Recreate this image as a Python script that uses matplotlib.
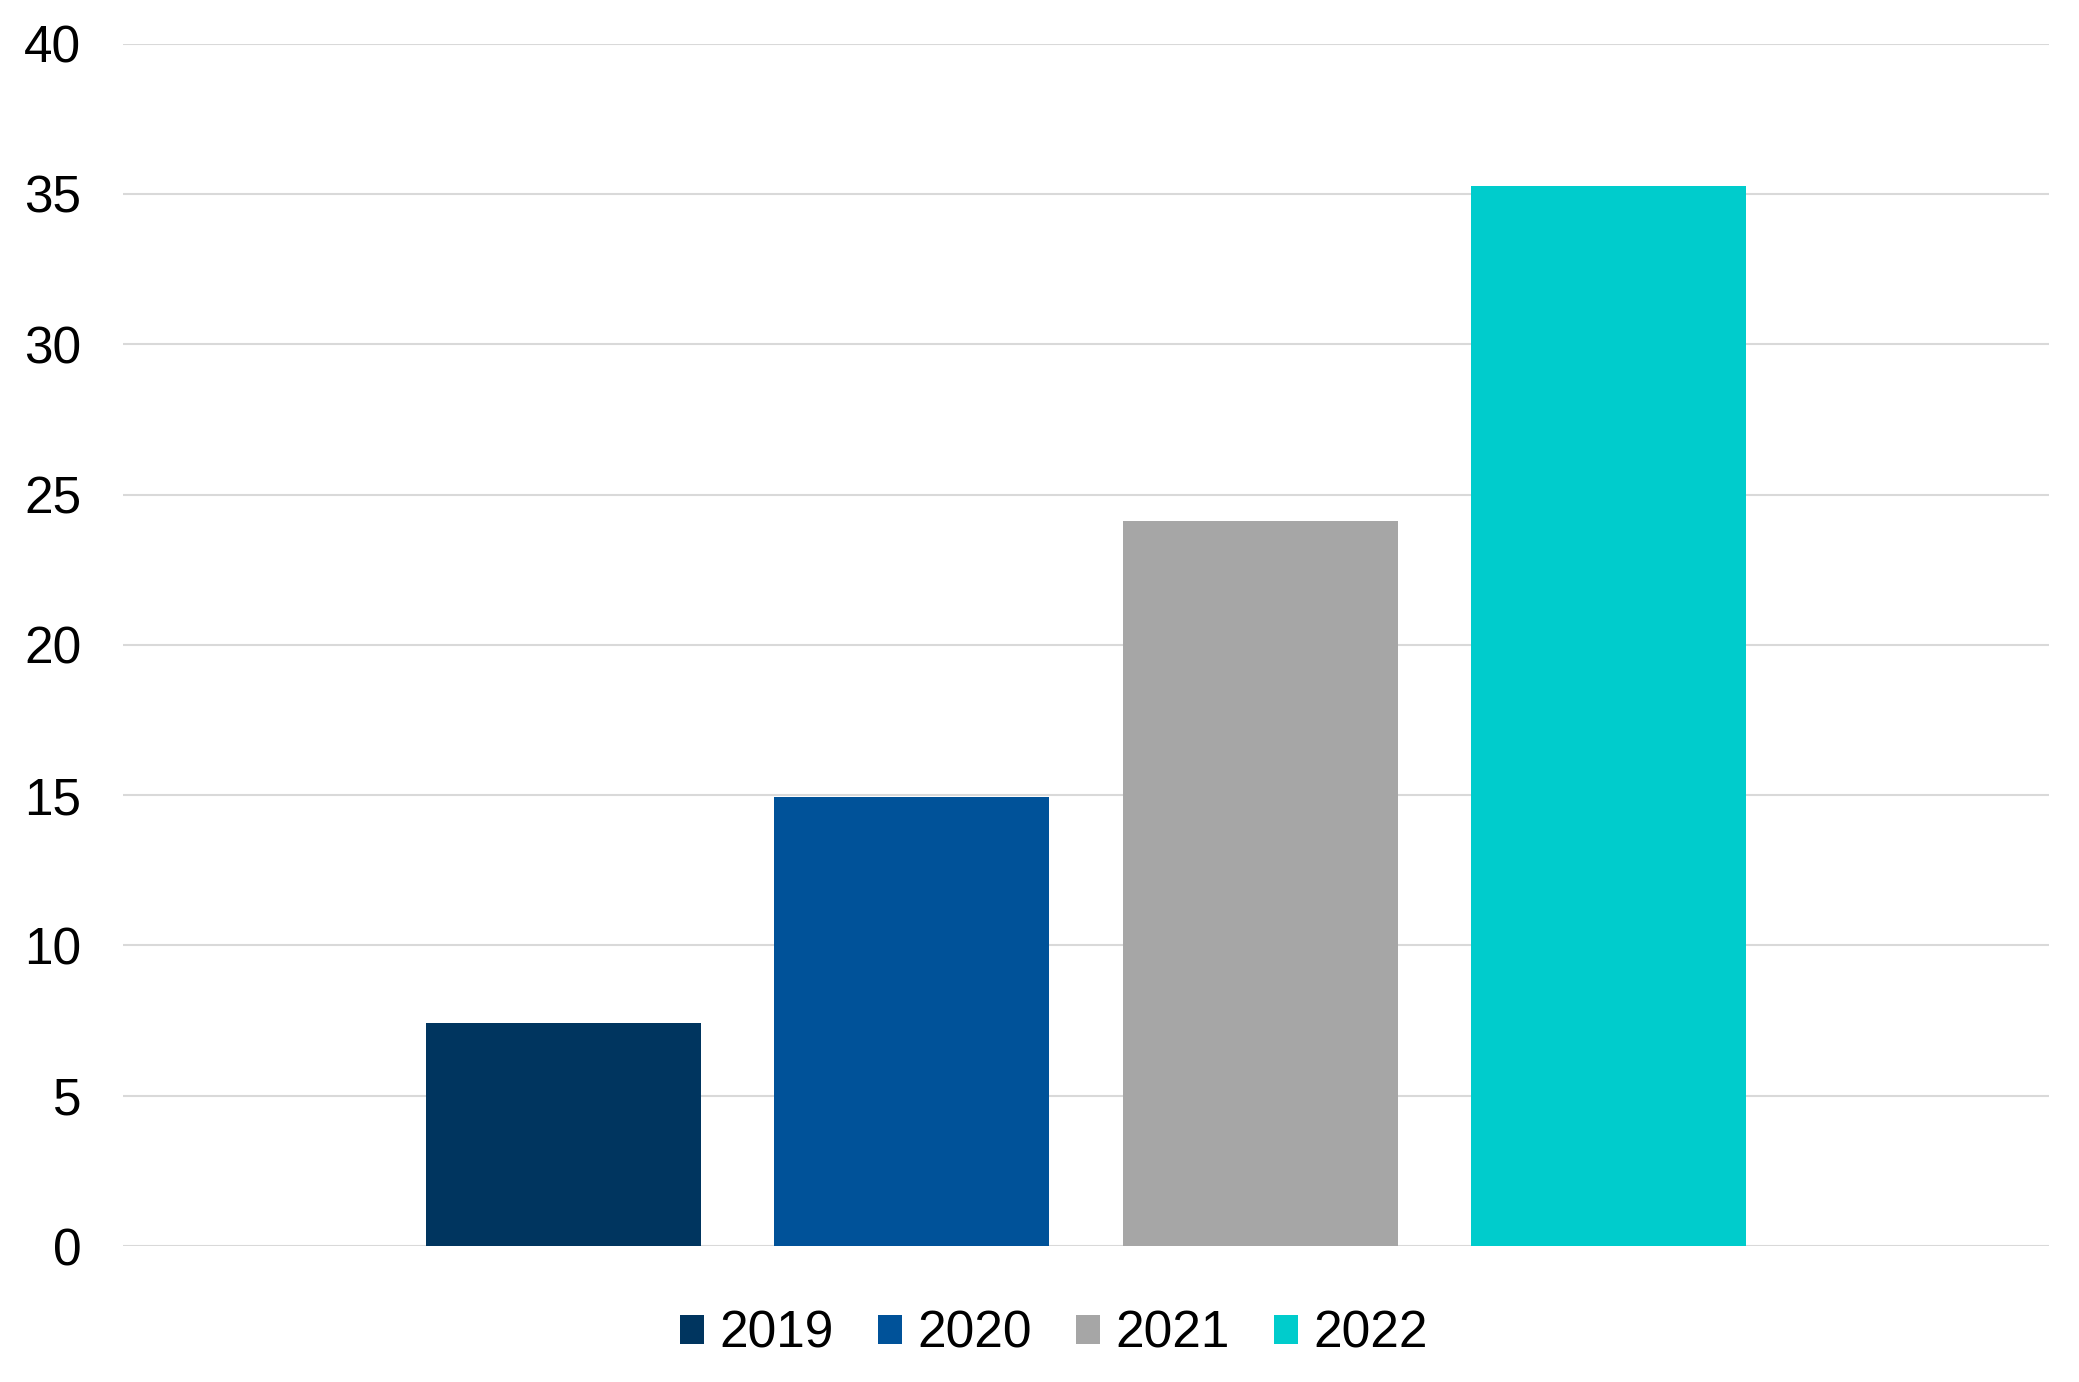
import numpy as np
import matplotlib.pyplot as plt

plt.rcParams['font.family'] = ['Liberation Sans', 'DejaVu Sans']

years = ['2019', '2020', '2021', '2022']
values = [7.43, 14.93, 24.13, 35.26]
colors = ['#00355F', '#005299', '#A6A6A6', '#00CCCC']

fig = plt.figure(figsize=(20.79, 13.82), dpi=100)
ax = fig.add_axes([0.0592, 0.0984, 0.9264, 0.87])

x = np.arange(len(years))
for i in range(len(years)):
    ax.bar(x[i], values[i], width=0.789, color=colors[i], label=years[i], zorder=3)

ax.set_xlim(-1.263, 4.263)
ax.set_ylim(0, 40)
ax.set_yticks(np.arange(0, 41, 5))
ax.set_xticks([])
ax.yaxis.grid(True, color='#D9D9D9', linewidth=1.5, zorder=0)
ax.tick_params(axis='y', length=0, pad=30, labelsize=37)
for s in ax.spines.values():
    s.set_visible(False)

fig.legend(loc='center', bbox_to_anchor=(0.507, 0.0345), ncol=4, frameon=False,
           fontsize=37, handlelength=0.47, handleheight=0.47, handletextpad=0.3,
           columnspacing=0.86, borderaxespad=0)

fig.savefig('out.png', dpi=100)
